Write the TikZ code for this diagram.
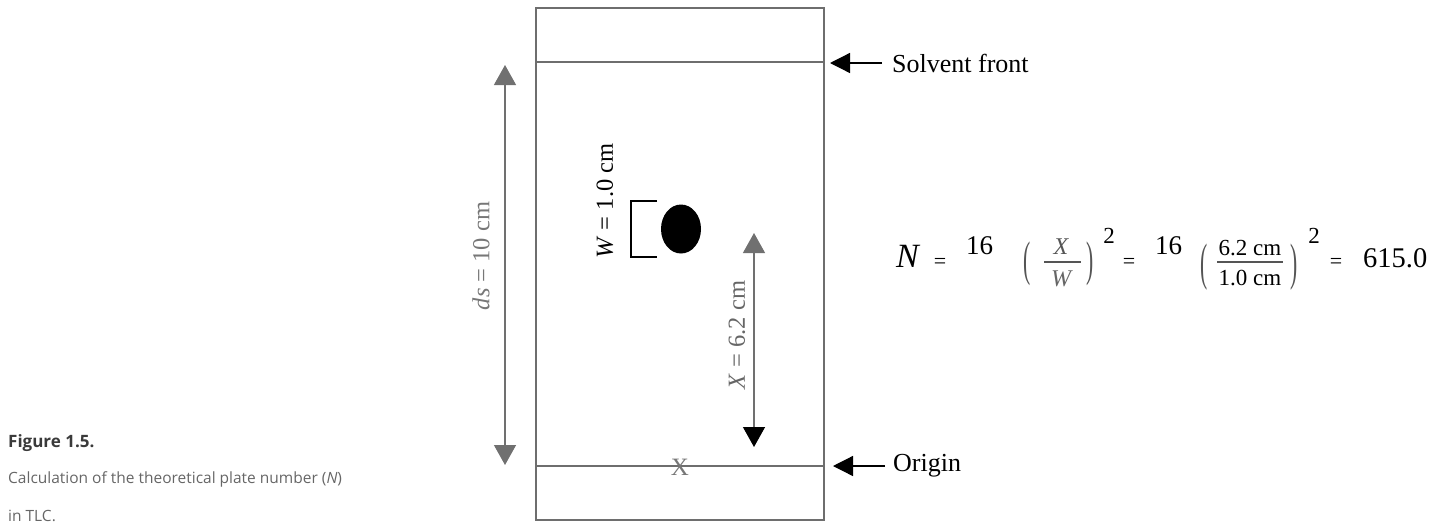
\documentclass[tikz,border=0pt]{standalone}
\usepackage{graphicx}
\usepackage{fontspec}
\setmainfont{Liberation Serif}
\newfontfamily\capfont{Open Sans}
\usetikzlibrary{arrows.meta,shapes.geometric}
\definecolor{plategray}{HTML}{6E6E6E}
\definecolor{arrgray}{HTML}{707070}
\definecolor{lblgray}{HTML}{777777}
\definecolor{capdark}{HTML}{3A3A3A}
\definecolor{capgray}{HTML}{666666}
\definecolor{eqgray}{HTML}{555555}
\tikzset{
  plate/.style={draw=plategray, line width=2pt},
  dimline/.style={draw=arrgray, line width=1.3pt},
  callout/.style={draw=black, line width=1.3pt, -{Triangle[width=20pt,length=20pt]}},
  lbl/.style={font=\fontsize{24.5}{27}\selectfont, inner sep=0pt},
  ctext/.style={font=\fontsize{26}{28}\selectfont, inner sep=0pt, anchor=west},
  eqnum/.style={font=\fontsize{27}{30}\selectfont, inner sep=0pt, anchor=base west},
  eqsign/.style={font=\fontsize{22}{24}\selectfont, inner sep=0pt},
  paren/.style={font=\fontsize{27}{30}\selectfont, inner sep=0pt, text=eqgray},
  fracpart/.style={font=\fontsize{23}{25}\selectfont, inner sep=0pt},
  fracbar/.style={draw=eqgray, line width=1.1pt},
  supnum/.style={font=\fontsize{23}{26}\selectfont, inner sep=0pt, anchor=base},
  captext/.style={font=\capfont\fontsize{15.5}{18}\selectfont, text=capgray, inner sep=0pt, anchor=base west},
}
\begin{document}
\begin{tikzpicture}[x=1pt,y=-1pt]
\useasboundingbox (0,0) rectangle (1433,523);
% plate
\coordinate (pTL) at (536,8);
\coordinate (pBR) at (824,520);
\coordinate (sfL) at (536,62);
\coordinate (sfR) at (824,62);
\coordinate (orL) at (536,466);
\coordinate (orR) at (824,466);
\draw[plate] (pTL) rectangle (pBR);
\draw[plate] (sfL) -- (sfR);
\draw[plate] (orL) -- (orR);
\node[text=lblgray, font=\fontsize{25}{27}\selectfont, inner sep=0pt] (xmark) at (680,467) {X};
% ds dimension
\coordinate (dsT) at (505,65);
\coordinate (dsB) at (505,465);
\draw[dimline, {Triangle[width=22pt,length=20pt,color=arrgray]}-{Triangle[width=22pt,length=20pt,color=arrgray]}] (dsT) -- (dsB);
\node[lbl, text=lblgray, rotate=90] (dslbl) at (481,256) {\textit{ds} = 10 cm};
% spot
\node[ellipse, fill=black, minimum width=40pt, minimum height=49pt, inner sep=0pt] (spot) at (681,229) {};
\coordinate (bTR) at (657,201);
\coordinate (bTL) at (631,201);
\coordinate (bBL) at (631,257);
\coordinate (bBR) at (657,257);
\draw[black, line width=1.5pt] (bTR) -- (bTL) -- (bBL) -- (bBR);
\node[lbl, rotate=90] (wlbl) at (605,201) {\textit{W} = 1.0 cm};
% X dimension
\coordinate (xT) at (754,233);
\coordinate (xB) at (754,447);
\draw[dimline, {Triangle[width=22pt,length=20pt,color=arrgray]}-{Triangle[width=22pt,length=20pt,color=black]}] (xT) -- (xB);
\node[lbl, text=capgray, rotate=90] (xlbl) at (737,335) {\textit{X} = 6.2 cm};
% callouts
\node[ctext] (sftext) at (892,63) {Solvent front};
\coordinate (sftip) at (830,63);
\draw[callout] (sftext.west) ++(-10,0) -- (sftip);
\node[ctext] (ortext) at (893,466) {Origin};
\coordinate (ortip) at (833,466);
\draw[callout] (ortext.west) ++(-8,0) -- (ortip);
% equation
\node[eqnum, font=\fontsize{34}{36}\selectfont\itshape] (N) at (896,267) {N};
\node[eqsign] (eq1) at (940,263) {=};
\node[eqnum] (s1) at (966,254) {16};
\node[paren] (lp1) at (1027,264) {\scalebox{0.8}[1.8]{(}};
\node[fracpart, font=\fontsize{24}{26}\selectfont\itshape, text=eqgray] (fx) at (1061,247) {X};
\coordinate (fb1L) at (1044,262);
\coordinate (fb1R) at (1081,262);
\draw[fracbar] (fb1L) -- (fb1R);
\node[fracpart, font=\fontsize{24}{26}\selectfont\itshape, text=capgray] (fw) at (1061,279) {W};
\node[paren] (rp1) at (1090,264) {\scalebox{0.8}[1.8]{)}};
\node[supnum] (p1) at (1109,243) {2};
\node[eqsign] (eq2) at (1129,263) {=};
\node[eqnum] (s2) at (1155,254) {16};
\node[paren] (lp2) at (1204,267) {\scalebox{0.8}[1.9]{(}};
\node[fracpart] (fn) at (1250,248) {6.2 cm};
\coordinate (fb2L) at (1217,262);
\coordinate (fb2R) at (1283,262);
\draw[fracbar] (fb2L) -- (fb2R);
\node[fracpart] (fd) at (1250,278) {1.0 cm};
\node[paren] (rp2) at (1294,267) {\scalebox{0.8}[1.9]{)}};
\node[supnum] (p2) at (1314,243) {2};
\node[eqsign] (eq3) at (1336,263) {=};
\node[eqnum, font=\fontsize{28.5}{30}\selectfont] (res) at (1363,267) {615.0};
% caption
\node[captext, text=capdark, font=\capfont\bfseries\fontsize{17}{19}\selectfont] (cap1) at (8,447) {Figure 1.5.};
\node[captext] (cap2) at (8,483) {Calculation of the theoretical plate number (\textit{N})};
\node[captext] (cap3) at (8,521) {in TLC.};
\end{tikzpicture}
\end{document}
